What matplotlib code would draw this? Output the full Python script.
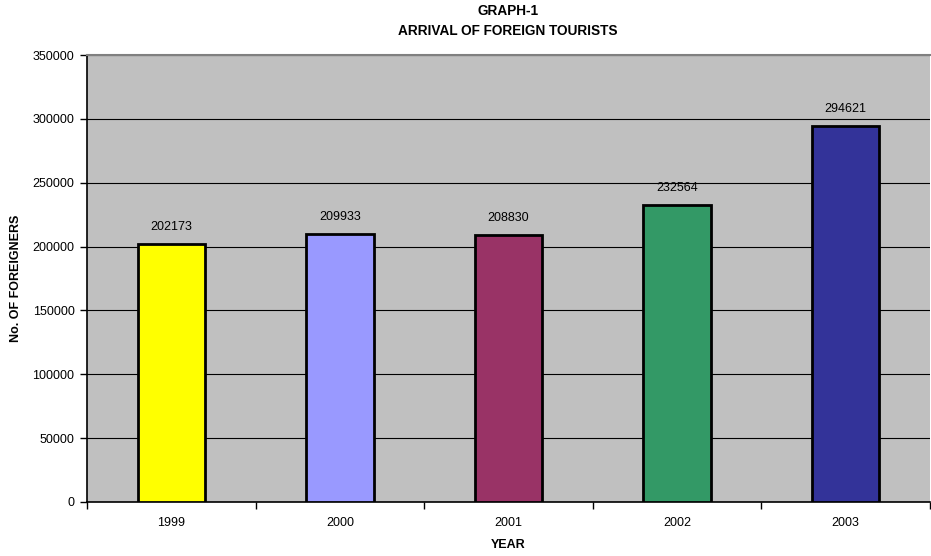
import matplotlib
matplotlib.use("Agg")
import matplotlib.pyplot as plt
import numpy as np

years = ["1999", "2000", "2001", "2002", "2003"]
arrivals = [202173, 209933, 208830, 232564, 294621]
colors = ["#FFFF00", "#9999FF", "#993366", "#339966", "#333399"]
yticks = [0, 50000, 100000, 150000, 200000, 250000, 300000, 350000]

plt.rcParams['font.family'] = ['Liberation Sans', 'DejaVu Sans']

W, H = 931, 556
fig = plt.figure(figsize=(W/100, H/100), dpi=100)
ax = fig.add_axes([87/W, 54/H, (930-87)/W, (502-55)/H])
ax.set_facecolor("#C0C0C0")

x = np.arange(len(years))
ax.bar(x, arrivals, width=0.4, color=colors, edgecolor="black", linewidth=2, zorder=3)
for xi, v in zip(x, arrivals):
    ax.annotate(str(v), (xi, v), xytext=(0, 12.2), textcoords="offset points",
                ha="center", va="center", fontsize=9, zorder=4)

ax.set_xlim(-0.5, len(years) - 0.5)
ax.set_ylim(0, 350000)
ax.set_yticks(yticks)
ax.set_yticklabels([str(t) for t in yticks], fontsize=9)
ax.yaxis.grid(True, color="black", linewidth=0.8, zorder=1)
ax.set_axisbelow(True)

ax.set_xticks(x)
ax.set_xticklabels(years, fontsize=9)
ax.tick_params(axis="x", length=0, pad=11)
ax.set_xticks(np.arange(-0.5, len(years)), minor=True)
ax.tick_params(axis="x", which="minor", length=5, direction="out", width=1)
ax.tick_params(axis="y", length=5, direction="out", width=1, pad=4)

for s in ["left", "bottom"]:
    ax.spines[s].set_color("black")
    ax.spines[s].set_linewidth(1.2)
ax.spines["top"].set_color("#808080")
ax.spines["top"].set_linewidth(1.5)
ax.spines["right"].set_visible(False)

fig.text(508/W, 1 - 11/H, "GRAPH-1", ha="center", va="center", fontsize=9.8, fontweight="bold")
fig.text(508/W, 1 - 31/H, "ARRIVAL OF FOREIGN TOURISTS", ha="center", va="center", fontsize=9.8, fontweight="bold")
fig.text(508/W, 1 - 545/H, "YEAR", ha="center", va="center", fontsize=9, fontweight="bold")
fig.text(16/W, 1 - 278/H, "No. OF FOREIGNERS", ha="center", va="center", rotation=90, fontsize=9, fontweight="bold")

fig.savefig("out.png", dpi=100)
